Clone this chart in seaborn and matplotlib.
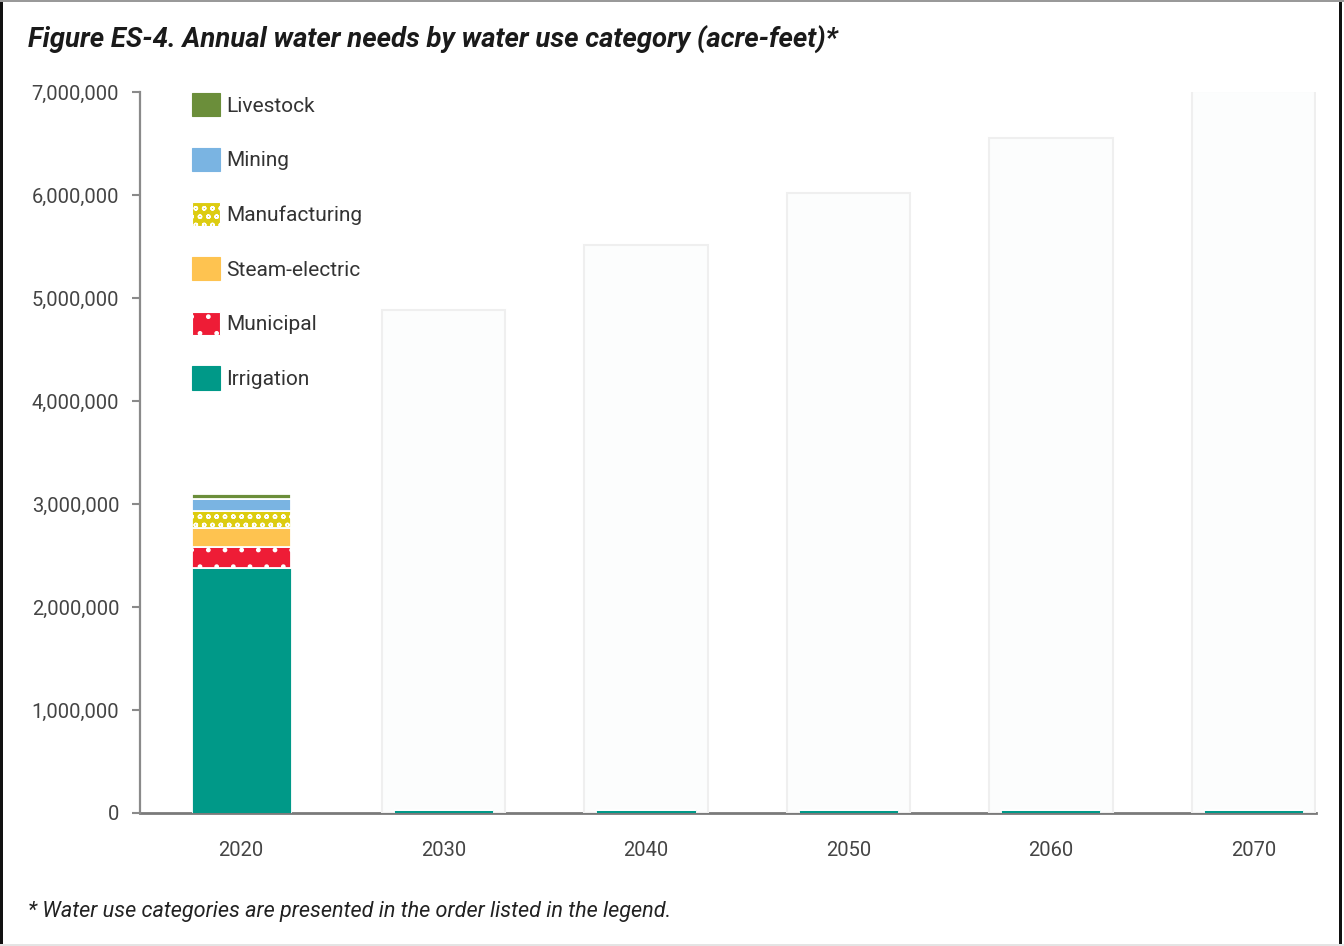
import matplotlib
matplotlib.use("Agg")
import matplotlib.pyplot as plt
from matplotlib.patches import Patch, Rectangle
from matplotlib.ticker import FuncFormatter
import numpy as np
import pandas as pd
import seaborn as sns

# ---- data (acre-feet) ----
years = ["2020", "2030", "2040", "2050", "2060", "2070"]
# outline totals for decades whose breakdown is not yet filled in
pending_totals = [np.nan, 4880000, 5510000, 6020000, 6550000, 7010000]
irrigation = [2380000, 30000, 30000, 30000, 30000, 30000]
municipal = [200000, 0, 0, 0, 0, 0]
steam_electric = [190000, 0, 0, 0, 0, 0]
manufacturing = [160000, 0, 0, 0, 0, 0]
mining = [120000, 0, 0, 0, 0, 0]
livestock = [50000, 0, 0, 0, 0, 0]

categories = ["Irrigation", "Municipal", "Steam-electric", "Manufacturing", "Mining", "Livestock"]
series = [irrigation, municipal, steam_electric, manufacturing, mining, livestock]
colors = ["#009988", "#ee1c36", "#fec350", "#ddcc11", "#7ab4e2", "#6b8e3a"]
hatches = [None, ".", None, "oo", None, None]
yticks = [0, 1000000, 2000000, 3000000, 4000000, 5000000, 6000000, 7000000]

sns.set_theme(style="white")
plt.rcParams["font.family"] = ["Roboto", "DejaVu Sans"]
plt.rcParams["hatch.linewidth"] = 1.0

fig = plt.figure(figsize=(13.44, 9.46), dpi=100)
ax = fig.add_axes([140 / 1344, 1 - 813 / 946, (1316 - 140) / 1344, (813 - 92) / 946])

# pale backdrop bars
sns.barplot(x=years, y=pending_totals, color="#fcfdfd", width=0.61,
            edgecolor="#efefef", linewidth=1.5, saturation=1, ax=ax)

# stacked categories
df = pd.DataFrame({c: s for c, s in zip(categories, series)}, index=years)
bottom = np.zeros(len(years))
for cat, col, h in zip(categories, colors, hatches):
    vals = df[cat].to_numpy()
    lw = 0.6 if cat == "Irrigation" else 1.3
    sns.barplot(x=years, y=vals, bottom=bottom, color=col, width=0.49,
                edgecolor="white", linewidth=lw, hatch=h, saturation=1, ax=ax)
    bottom = bottom + vals

ax.set_xlim(-0.5, 5.31)
ax.set_ylim(0, 7000000)
ax.set_yticks(yticks)
ax.yaxis.set_major_formatter(FuncFormatter(lambda v, p: f"{int(v):,}"))
ax.set_xlabel("")
ax.set_ylabel("")

for side in ["top", "right"]:
    ax.spines[side].set_visible(False)
ax.spines["left"].set_color("#8a8a8a")
ax.spines["left"].set_linewidth(1.6)
ax.spines["bottom"].set_color("#7a7a7a")
ax.spines["bottom"].set_linewidth(2.0)
ax.spines["bottom"].set_zorder(0.5)
ax.tick_params(axis="y", which="major", left=True, length=6, width=1.5,
               color="#8a8a8a", pad=9, labelsize=14.5, labelcolor="#444444")
ax.tick_params(axis="x", which="major", bottom=False, length=0, pad=20,
               labelsize=14.5, labelcolor="#444444")

# legend, listed from top of stack to bottom
handles = [Patch(facecolor=c, edgecolor="white" if h else c, hatch=h, linewidth=0.8)
           for c, h in zip(colors, hatches)][::-1]
labels = categories[::-1]
ax.legend(handles, labels, loc="upper left",
          bbox_to_anchor=(192 / 1344, 1 - 93 / 946), bbox_transform=fig.transFigure,
          frameon=False, fontsize=15, handlelength=1.35, handleheight=1.35,
          handletextpad=0.3, labelspacing=1.5, borderpad=0, borderaxespad=0,
          labelcolor="#333333")

fig.text(28 / 1344, 1 - 40 / 946,
         "Figure ES-4. Annual water needs by water use category (acre-feet)*",
         fontsize=19.8, fontweight="bold", fontstyle="italic", color="#1a1a1a",
         va="center", ha="left")
fig.text(28 / 1344, 1 - 911 / 946,
         "* Water use categories are presented in the order listed in the legend.",
         fontsize=15.6, fontstyle="italic", color="#222222", va="center", ha="left")

# outer frame around the figure
fig.patches.append(Rectangle((0, 0), 3 / 1344, 1, transform=fig.transFigure,
                             facecolor="#111111", edgecolor="none"))
fig.patches.append(Rectangle((1339 / 1344, 0), 3 / 1344, 1, transform=fig.transFigure,
                             facecolor="#111111", edgecolor="none"))
fig.patches.append(Rectangle((0, 1 - 2 / 946), 1, 2 / 946, transform=fig.transFigure,
                             facecolor="#999999", edgecolor="none"))
fig.patches.append(Rectangle((0, 0), 1, 2 / 946, transform=fig.transFigure,
                             facecolor="#e4e4e4", edgecolor="none"))

fig.savefig("out.png", dpi=100)
